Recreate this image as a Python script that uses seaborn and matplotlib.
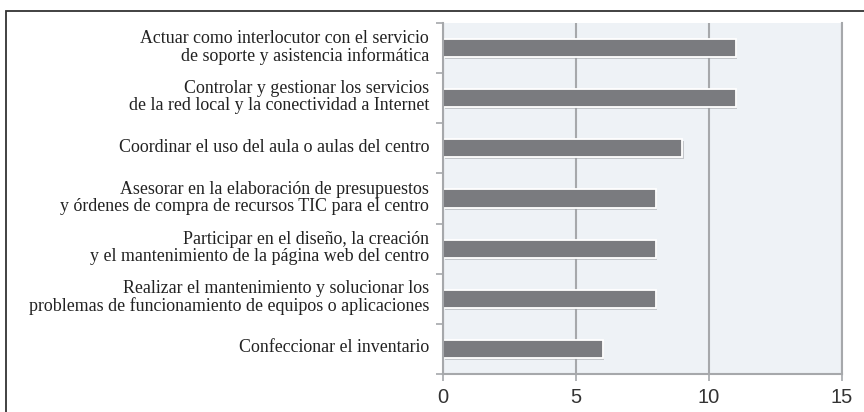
import numpy as np
import pandas as pd
import seaborn as sns
import matplotlib.pyplot as plt
import matplotlib.patheffects as pe
import matplotlib.transforms as mtransforms
from matplotlib.patches import Rectangle

# funciones del coordinador TIC
funciones = [
    "Actuar como interlocutor con el servicio\nde soporte y asistencia informática",
    "Controlar y gestionar los servicios\nde la red local y la conectividad a Internet",
    "Coordinar el uso del aula o aulas del centro",
    "Asesorar en la elaboración de presupuestos\ny órdenes de compra de recursos TIC para el centro",
    "Participar en el diseño, la creación\ny el mantenimiento de la página web del centro",
    "Realizar el mantenimiento y solucionar los\nproblemas de funcionamiento de equipos o aplicaciones",
    "Confeccionar el inventario",
]
valores = [11, 11, 9, 8, 8, 8, 6]
x_ticks = [0, 5, 10, 15]

df = pd.DataFrame({"funcion": funciones, "valor": valores})

sns.set_style("white")
plt.rcParams["font.family"] = ["Liberation Sans", "DejaVu Sans"]

fig = plt.figure(figsize=(8.64, 4.12), dpi=100)
ax = fig.add_axes([443 / 864, 1 - 374 / 412, (842 - 443) / 864, (374 - 23) / 412])
ax.set_facecolor("#eef2f6")

sns.barplot(data=df, x="valor", y="funcion", orient="h", color="#7a7b7f",
            saturation=1, width=0.36, edgecolor="white", linewidth=1.3, ax=ax)
for bar in ax.patches:
    bar.set_path_effects([pe.SimplePatchShadow(offset=(1.2, -1.5), shadow_rgbFace="#9a9ca0", alpha=0.5),
                          pe.Normal()])

ax.set_xlim(0, 15)
ax.set_ylim(6.5, -0.5)
ax.set_xticks(x_ticks)
ax.set_xticklabels([str(t) for t in x_ticks])
ax.set_xlabel("")
ax.set_ylabel("")

# lineas verticales de referencia
ax.set_axisbelow(True)
ax.xaxis.grid(True, color="#a6a8ab", linewidth=1.5)
ax.yaxis.grid(False)

for s in ["left", "bottom", "right"]:
    ax.spines[s].set_visible(True)
    ax.spines[s].set_color("#a6a8ab")
    ax.spines[s].set_linewidth(1.5)
ax.spines["top"].set_visible(False)

ax.tick_params(axis="x", bottom=True, direction="out", length=5, width=1.2, color="#a6a8ab",
               labelsize=14.5, labelcolor="#333333", pad=5)
ax.tick_params(axis="y", which="major", left=True, length=0, pad=10)
ax.set_yticks(np.arange(-0.5, 7, 1), minor=True)
ax.tick_params(axis="y", which="minor", left=True, direction="out", length=5, width=1.2,
               color="#a6a8ab")

# etiquetas un poco por encima del centro de la barra
shift = mtransforms.ScaledTranslation(0, 3 / 100, fig.dpi_scale_trans)
for lab in ax.get_yticklabels():
    lab.set_fontfamily(["Liberation Serif", "DejaVu Serif"])
    lab.set_fontsize(12.9)
    lab.set_color("#222222")
    lab.set_linespacing(1.0)
    lab.set_horizontalalignment("right")
    lab.set_multialignment("right")
    lab.set_transform(lab.get_transform() + shift)

# marco exterior
fig.patches.append(Rectangle((6 / 864, -0.2), 1.2, 1.2 - 11 / 412, transform=fig.transFigure,
                             fill=False, edgecolor="#333333", linewidth=1.3))

fig.savefig("out.png", dpi=100)
